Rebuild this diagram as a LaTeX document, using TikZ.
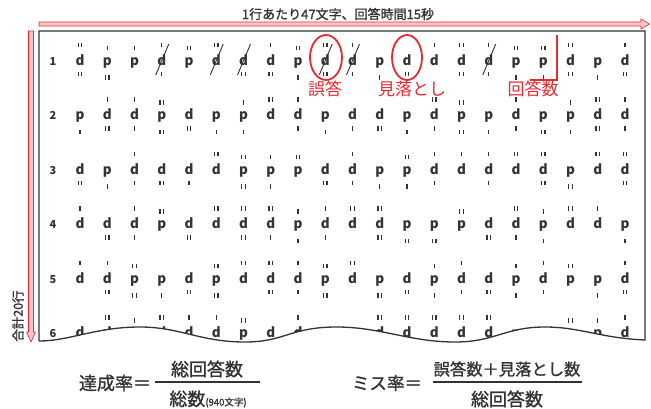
\documentclass[tikz,border=0pt]{standalone}
\usepackage{fontspec}
\setmainfont{Noto Sans CJK JP}
\newfontfamily\jpmed[FakeBold=1.2]{Noto Sans CJK JP}
\usetikzlibrary{arrows.meta}
\definecolor{ink}{HTML}{333333}
\definecolor{mred}{HTML}{E42B33}
\definecolor{mpink}{HTML}{F7C6C9}
\newcommand\tickbars[3]{%
  \ifcase#3\relax
  \or \draw[bar] ({#1},{#2-2.2}) -- ({#1},{#2+2.2});
  \or \draw[bar] ({#1-1.7},{#2-2.2}) -- ({#1-1.7},{#2+2.2}) ({#1+1.7},{#2-2.2}) -- ({#1+1.7},{#2+2.2});
  \fi}
\tikzset{
  bar/.style={ink, line width=1.3pt},
  slashline/.style={ink, line width=0.9pt},
  letter/.style={anchor=base, inner sep=0pt, text=ink, font=\fontsize{13.5}{13.5}\selectfont\bfseries},
  rownum/.style={anchor=base, inner sep=0pt, text=ink, font=\fontsize{11}{11}\selectfont\bfseries},
  boxline/.style={draw=ink, line width=1.3pt},
  arrowshape/.style={draw=mred, fill=mpink, line width=0.6pt, line join=miter},
  redmark/.style={draw=mred, line width=1.8pt},
  redlabel/.style={inner sep=0pt, text=mred, font=\fontsize{17}{17}\selectfont},
  headtext/.style={inner sep=0pt, text=ink, font=\jpmed\fontsize{13}{13}\selectfont},
  formula/.style={inner sep=0pt, text=ink, font=\jpmed\fontsize{18}{18}\selectfont},
  fracbar/.style={draw=ink, line width=1.2pt}
}
\begin{document}
\begin{tikzpicture}[x=1pt,y=-1pt]
\useasboundingbox (0,0) rectangle (651,408);
\fill[white] (0,0) rectangle (651,408);

% title and top arrow
\node[headtext] (title) at (338,14) {1行あたり47文字、回答時間15秒};
\draw[arrowshape] (39,22) -- (641,22) -- (641,19) -- (649.5,24) -- (641,29) -- (641,26) -- (39,26) -- cycle;

% left arrow and label
\draw[arrowshape] (28.5,31) -- (28.5,332) -- (26.5,332) -- (31,342) -- (35.5,332) -- (33.5,332) -- (33.5,31) -- cycle;
\node[headtext, rotate=90, font=\jpmed\fontsize{12.5}{12.5}\selectfont] (total) at (18,316) {合計20行};

% clipped sheet content
\begin{scope}
\clip (39,31) -- (645,31) -- (645,340)
  .. controls (600,338) and (580,327) .. (545,327)
  .. controls (505,327) and (495,342) .. (455,342)
  .. controls (410,342) and (380,327) .. (337,327)
  .. controls (290,327) and (285,342) .. (245,342)
  .. controls (200,342) and (180,327) .. (140,327)
  .. controls (95,327) and (70,341) .. (39,341) -- cycle;
\foreach \r/\data in {
 1/{d/2/2/0, p/1/2/0, p/1/0/0, d/1/1/1, p/2/0/0, d/2/0/1, d/0/2/1, d/1/2/0, p/2/1/0, d/2/2/1, d/1/1/1, p/0/1/0, d/0/2/0, d/1/0/0, d/2/2/0, d/1/1/1, p/2/1/0, p/2/1/0, d/2/2/0, p/0/1/0, d/1/2/0},
 2/{p/0/1/0, d/1/2/0, d/1/1/0, p/2/2/0, d/0/2/0, p/0/1/0, p/1/1/0, d/2/0/0, d/1/1/0, p/0/1/0, d/0/1/0, d/0/2/0, p/0/1/0, d/2/1/0, p/2/2/0, p/0/1/0, d/1/1/0, p/0/2/0, p/1/1/0, d/2/2/0, d/1/1/0},
 3/{d/0/2/0, p/0/1/0, d/1/1/0, d/0/2/0, d/0/1/0, d/2/0/0, p/2/2/0, p/1/1/0, p/2/0/0, d/0/2/0, d/1/1/0, p/0/1/0, p/2/1/0, d/1/1/0, d/1/0/0, d/1/1/0, d/2/0/0, d/2/2/0, p/0/2/0, d/2/0/0, d/2/2/0},
 4/{d/1/0/0, d/0/2/0, d/1/1/0, p/2/0/0, d/0/2/0, d/2/0/0, d/2/2/0, d/2/1/0, p/1/1/0, d/1/1/0, d/2/0/0, d/2/2/0, p/0/2/0, p/0/2/0, p/2/0/0, d/0/2/0, d/2/1/0, p/1/1/0, d/2/0/0, d/1/0/0, p/0/1/0},
 5/{d/1/0/0, d/1/2/0, p/2/2/0, p/0/1/0, d/0/2/0, p/2/2/0, d/2/0/0, d/2/2/0, d/1/1/0, p/2/2/0, d/2/0/0, p/0/2/0, d/0/2/0, p/1/1/0, d/1/1/0, d/0/2/0, p/1/1/0, d/1/1/0, p/2/0/0, p/0/1/0, d/1/2/0},
 6/{d/0/0/0, d/2/0/0, p/1/0/0, d/2/0/0, d/1/0/0, d/1/0/0, p/2/0/0, d/0/0/0, d/1/0/0, p/0/0/0, p/0/0/0, d/2/0/0, d/2/0/0, d/2/0/0, d/2/0/0, d/2/0/0, p/0/0/0, p/0/0/0, p/2/0/0, p/1/0/0, d/1/0/0}} {
  \pgfmathsetmacro\yy{65+(\r-1)*54.5}
  \node[rownum] (n\r) at (53,\yy) {\r};
  \foreach \l/\a/\b/\s [count=\c] in \data {
    \pgfmathsetmacro\xx{80+(\c-1)*27.25}
    \if\l d\def\upoff{20}\def\dnoff{9}\else\def\upoff{17}\def\dnoff{12.5}\fi
    \node[letter] (r\r c\c) at (\xx,\yy) {\l};
    \tickbars{\xx}{\yy-\upoff}{\a}
    \tickbars{\xx}{\yy+\dnoff}{\b}
    \ifnum\s=1 \draw[slashline] ({\xx-6},{\yy+10}) -- ({\xx+7},{\yy-21}); \fi
  }
}
\end{scope}

% sheet outline with wavy bottom
\draw[boxline, line join=miter] (39,341) -- (39,31) -- (645,31) -- (645,340)
  .. controls (600,338) and (580,327) .. (545,327)
  .. controls (505,327) and (495,342) .. (455,342)
  .. controls (410,342) and (380,327) .. (337,327)
  .. controls (290,327) and (285,342) .. (245,342)
  .. controls (200,342) and (180,327) .. (140,327)
  .. controls (95,327) and (70,341) .. (39,341);

% red annotations
\draw[redmark] (326,57.5) ellipse [x radius=16pt, y radius=22.5pt];
\draw[redmark] (407,57.5) ellipse [x radius=15pt, y radius=22.5pt];
\coordinate (Ltop) at (557,35);
\coordinate (Lcorner) at (557,80);
\coordinate (Lend) at (530,80);
\draw[redmark] (Ltop) -- (Lcorner) -- (Lend);
\node[redlabel] (lbl1) at (325,89) {誤答};
\node[redlabel] (lbl2) at (412,89) {見落とし};
\node[redlabel] (lbl3) at (533,89) {回答数};

% formulas
\node[formula] (f1lhs) at (115,383) {達成率＝};
\node[formula] (f1num) at (207,369) {総回答数};
\node[formula] (f1den) at (208,399) {総数\fontsize{9.5}{9.5}\selectfont(940文字)};
\draw[fracbar] (155,382) -- (260,382);

\node[formula, font=\jpmed\fontsize{17.5}{17.5}\selectfont] (f2lhs) at (387,383) {ミス率＝};
\node[formula, font=\jpmed\fontsize{16.3}{16.3}\selectfont] (f2num) at (507,369) {誤答数＋見落とし数};
\node[formula] (f2den) at (507,399) {総回答数};
\draw[fracbar] (433,382) -- (582,382);
\end{tikzpicture}
\end{document}
